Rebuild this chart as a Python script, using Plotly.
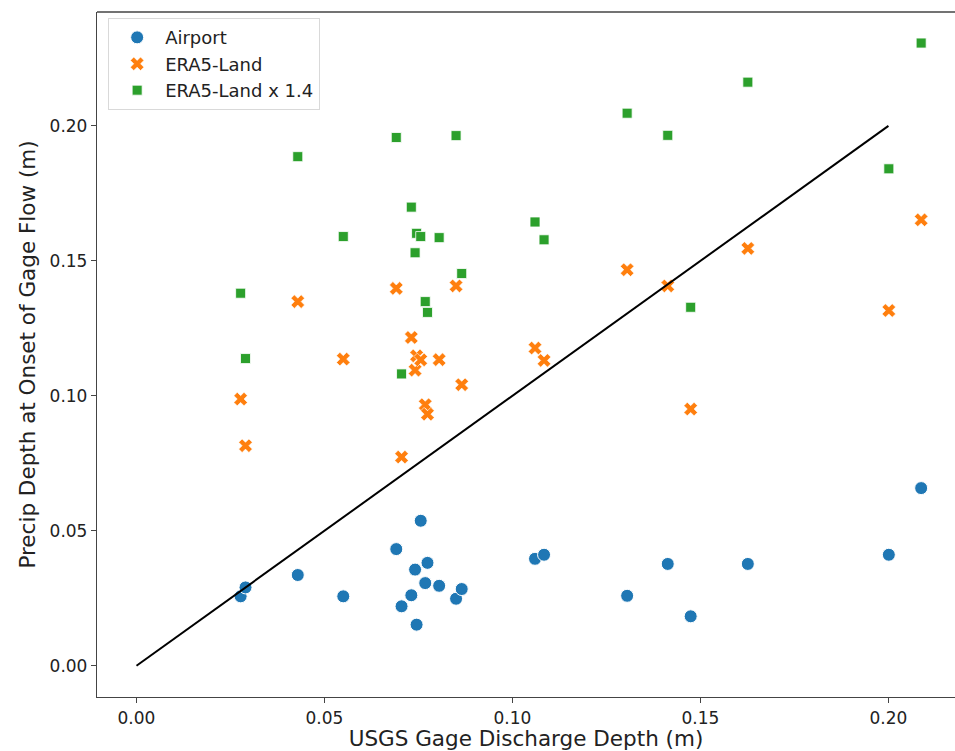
import plotly.graph_objects as go

# USGS gage discharge depth (m) - shared x for all three series
gage_depth = [0.0277, 0.0290, 0.0429, 0.0550, 0.0691, 0.0705, 0.0731, 0.0741,
              0.0745, 0.0756, 0.0768, 0.0774, 0.0805, 0.0850, 0.0865, 0.1060,
              0.1084, 0.1305, 0.1413, 0.1474, 0.1626, 0.2001, 0.2087]

airport = [0.0257, 0.0290, 0.0336, 0.0257, 0.0432, 0.0220, 0.0261, 0.0356,
           0.0152, 0.0537, 0.0306, 0.0381, 0.0296, 0.0248, 0.0284, 0.0396,
           0.0411, 0.0259, 0.0377, 0.0183, 0.0377, 0.0411, 0.0658]

era5 = [0.0988, 0.0815, 0.1349, 0.1136, 0.1398, 0.0773, 0.1216, 0.1095,
        0.1148, 0.1133, 0.0967, 0.0932, 0.1134, 0.1407, 0.1041, 0.1177,
        0.1131, 0.1467, 0.1407, 0.0951, 0.1546, 0.1316, 0.1652]

era5_x14 = [0.1380, 0.1138, 0.1886, 0.1590, 0.1957, 0.1081, 0.1699, 0.1530,
            0.1602, 0.1590, 0.1349, 0.1309, 0.1586, 0.1964, 0.1453, 0.1644,
            0.1578, 0.2047, 0.1965, 0.1328, 0.2162, 0.1841, 0.2307]

one_to_one_x = [0.0, 0.2]
one_to_one_y = [0.0, 0.2]

x_ticks = [0.00, 0.05, 0.10, 0.15, 0.20]
y_ticks = [0.00, 0.05, 0.10, 0.15, 0.20]

FONT = "DejaVu Sans"

fig = go.Figure()
fig.add_trace(go.Scatter(
    x=gage_depth, y=airport, mode="markers", name="Airport",
    marker=dict(symbol="circle", size=13, color="#1f77b4",
                line=dict(color="white", width=1))))
fig.add_trace(go.Scatter(
    x=gage_depth, y=era5, mode="markers", name="ERA5-Land",
    marker=dict(symbol="x", size=12, color="#ff7f0e",
                line=dict(color="white", width=0.6))))
fig.add_trace(go.Scatter(
    x=gage_depth, y=era5_x14, mode="markers", name="ERA5-Land x 1.4",
    marker=dict(symbol="square", size=10, color="#2ca02c",
                line=dict(color="white", width=0.8))))
fig.add_trace(go.Scatter(
    x=one_to_one_x, y=one_to_one_y, mode="lines", showlegend=False,
    line=dict(color="black", width=2), hoverinfo="skip"))

axis_common = dict(
    showgrid=False, zeroline=False, showline=True, linecolor="#444",
    linewidth=1.3, ticks="outside", ticklen=5, tickwidth=1.2, tickcolor="#444",
    tickfont=dict(family=FONT, size=17, color="#222"),
    tickformat=".2f",
)

fig.update_layout(
    width=955, height=751,
    margin=dict(l=97, r=0, t=12, b=54),
    paper_bgcolor="white", plot_bgcolor="white",
    font=dict(family=FONT, color="#222"),
    xaxis=dict(range=[-0.0105, 0.2177], tickvals=x_ticks,
               title=dict(text="USGS Gage Discharge Depth (m)",
                          font=dict(family=FONT, size=21.5, color="#222"),
                          standoff=4),
               **axis_common),
    yaxis=dict(range=[-0.0116, 0.2422], tickvals=y_ticks,
               title=dict(text="Precip Depth at Onset of Gage Flow (m)",
                          font=dict(family=FONT, size=21.5, color="#222"),
                          standoff=8),
               **axis_common),
    legend=dict(x=0.013, y=0.991, xanchor="left", yanchor="top",
                bgcolor="white", bordercolor="#d9d9d9", borderwidth=1,
                font=dict(family=FONT, size=18, color="#222"),
                itemsizing="trace", itemwidth=46),
    shapes=[dict(type="line", xref="paper", yref="paper", x0=0, x1=1, y0=1, y1=1,
                 line=dict(color="#444", width=1.3))],
)

fig.write_html("out.html")
